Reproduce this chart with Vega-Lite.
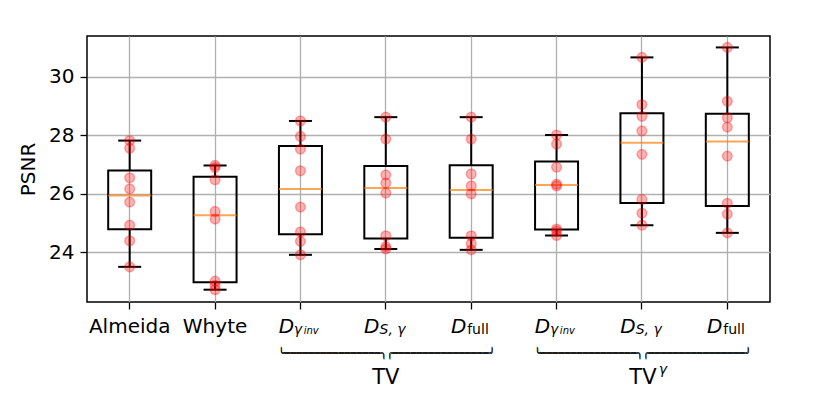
{
  "$schema": "https://vega.github.io/schema/vega-lite/v6.json",
  "width": 683,
  "height": 266,
  "autosize": {"type": "none"},
  "padding": {"left": 87, "top": 36, "right": 61, "bottom": 92},
  "background": "white",
  "config": {
    "font": "DejaVu Sans",
    "axis": {"labelFont": "DejaVu Sans", "titleFont": "DejaVu Sans", "labelColor": "black", "titleColor": "black"},
    "view": {"stroke": "black", "strokeWidth": 1.5}
  },
  "datasets": {
    "psnr": [
      {"method": "Almeida", "psnr": 23.51}, {"method": "Almeida", "psnr": 24.40}, {"method": "Almeida", "psnr": 24.93}, {"method": "Almeida", "psnr": 25.72},
      {"method": "Almeida", "psnr": 26.17}, {"method": "Almeida", "psnr": 26.55}, {"method": "Almeida", "psnr": 27.56}, {"method": "Almeida", "psnr": 27.82},
      {"method": "Whyte", "psnr": 22.73}, {"method": "Whyte", "psnr": 22.88}, {"method": "Whyte", "psnr": 23.02}, {"method": "Whyte", "psnr": 25.14},
      {"method": "Whyte", "psnr": 25.40}, {"method": "Whyte", "psnr": 26.48}, {"method": "Whyte", "psnr": 26.90}, {"method": "Whyte", "psnr": 26.97},
      {"method": "TV_Dginv", "psnr": 23.92}, {"method": "TV_Dginv", "psnr": 24.38}, {"method": "TV_Dginv", "psnr": 24.70}, {"method": "TV_Dginv", "psnr": 25.55},
      {"method": "TV_Dginv", "psnr": 26.79}, {"method": "TV_Dginv", "psnr": 27.53}, {"method": "TV_Dginv", "psnr": 27.96}, {"method": "TV_Dginv", "psnr": 28.49},
      {"method": "TV_DSg", "psnr": 24.12}, {"method": "TV_DSg", "psnr": 24.20}, {"method": "TV_DSg", "psnr": 24.57}, {"method": "TV_DSg", "psnr": 26.03},
      {"method": "TV_DSg", "psnr": 26.37}, {"method": "TV_DSg", "psnr": 26.65}, {"method": "TV_DSg", "psnr": 27.87}, {"method": "TV_DSg", "psnr": 28.62},
      {"method": "TV_Dfull", "psnr": 24.09}, {"method": "TV_Dfull", "psnr": 24.30}, {"method": "TV_Dfull", "psnr": 24.57}, {"method": "TV_Dfull", "psnr": 26.00},
      {"method": "TV_Dfull", "psnr": 26.27}, {"method": "TV_Dfull", "psnr": 26.68}, {"method": "TV_Dfull", "psnr": 27.87}, {"method": "TV_Dfull", "psnr": 28.62},
      {"method": "TVg_Dginv", "psnr": 24.58}, {"method": "TVg_Dginv", "psnr": 24.73}, {"method": "TVg_Dginv", "psnr": 24.80}, {"method": "TVg_Dginv", "psnr": 26.27},
      {"method": "TVg_Dginv", "psnr": 26.33}, {"method": "TVg_Dginv", "psnr": 26.91}, {"method": "TVg_Dginv", "psnr": 27.70}, {"method": "TVg_Dginv", "psnr": 28.01},
      {"method": "TVg_DSg", "psnr": 24.93}, {"method": "TVg_DSg", "psnr": 25.34}, {"method": "TVg_DSg", "psnr": 25.81}, {"method": "TVg_DSg", "psnr": 27.35},
      {"method": "TVg_DSg", "psnr": 28.15}, {"method": "TVg_DSg", "psnr": 28.65}, {"method": "TVg_DSg", "psnr": 29.05}, {"method": "TVg_DSg", "psnr": 30.66},
      {"method": "TVg_Dfull", "psnr": 24.67}, {"method": "TVg_Dfull", "psnr": 25.31}, {"method": "TVg_Dfull", "psnr": 25.68}, {"method": "TVg_Dfull", "psnr": 27.29},
      {"method": "TVg_Dfull", "psnr": 28.28}, {"method": "TVg_Dfull", "psnr": 28.60}, {"method": "TVg_Dfull", "psnr": 29.16}, {"method": "TVg_Dfull", "psnr": 31.00}
    ]
  },
  "data": {"name": "psnr"},
  "resolve": {"axis": {"x": "independent"}},
  "layer": [
    {
      "mark": {
        "type": "boxplot",
        "extent": 1.5,
        "size": 43,
        "outliers": false,
        "box": {"fillOpacity": 0, "stroke": "black", "strokeWidth": 2},
        "median": {"color": "#ff7f0e", "thickness": 2},
        "rule": {"color": "black", "strokeWidth": 2},
        "ticks": {"color": "black", "thickness": 2, "size": 23}
      },
      "encoding": {
        "x": {
          "field": "method", "type": "nominal",
          "scale": {"domain": ["Almeida", "Whyte", "TV_Dginv", "TV_DSg", "TV_Dfull", "TVg_Dginv", "TVg_DSg", "TVg_Dfull"], "paddingInner": 0, "paddingOuter": 0},
          "axis": {
            "orient": "bottom", "title": null, "grid": true, "gridColor": "#b0b0b0", "gridWidth": 1.3,
            "domain": false, "ticks": true, "tickSize": 7, "tickColor": "black", "tickWidth": 1.3,
            "labelAngle": 0, "labelOverlap": false, "labelBound": false, "labelFlush": false,
            "labelExpr": "datum.value == 'Almeida' || datum.value == 'Whyte' ? datum.value : 'D'",
            "labelFontSize": 20, "labelBaseline": "alphabetic", "labelPadding": 23,
            "labelFontStyle": {"condition": {"test": "datum.value != 'Almeida' && datum.value != 'Whyte'", "value": "italic"}, "value": "normal"},
            "labelOffset": {"condition": [
              {"test": "indexof(datum.value, 'Dginv') >= 0", "value": -14},
              {"test": "indexof(datum.value, 'DSg') >= 0", "value": -14},
              {"test": "indexof(datum.value, 'Dfull') >= 0", "value": -12.5}
            ], "value": 0}
          }
        },
        "y": {
          "field": "psnr", "type": "quantitative", "title": "PSNR",
          "scale": {"domain": [22.31, 31.39], "nice": false, "zero": false}
        }
      }
    },
    {
      "mark": {"type": "point", "shape": "circle", "filled": true, "size": 95, "opacity": 1, "fill": "red", "stroke": "red", "fillOpacity": 0.3, "strokeOpacity": 0.3, "strokeWidth": 1.5},
      "encoding": {
        "x": {
          "field": "method", "type": "nominal",
          "axis": {
            "orient": "bottom", "title": null, "grid": false, "domain": false, "ticks": false,
            "labelAngle": 0, "labelOverlap": false, "labelBound": false, "labelFlush": false,
            "labelExpr": "indexof(datum.value, 'Dginv') >= 0 ? 'γ' : indexof(datum.value, 'DSg') >= 0 ? 'S, γ' : indexof(datum.value, 'Dfull') >= 0 ? 'full' : ''",
            "labelFontSize": 14, "labelBaseline": "alphabetic", "labelPadding": 31.5,
            "labelFontStyle": {"condition": {"test": "indexof(datum.value, 'Dfull') >= 0", "value": "normal"}, "value": "italic"},
            "labelOffset": {"condition": {"test": "indexof(datum.value, 'Dginv') >= 0", "value": -2.5}, "value": 6.8}
          }
        },
        "y": {
          "field": "psnr", "type": "quantitative", "title": "PSNR",
          "axis": {
            "title": "PSNR", "titleFontSize": 20, "titleFontWeight": "normal", "titlePadding": 10,
            "values": [24, 26, 28, 30], "labelFontSize": 20, "labelPadding": 6,
            "tickSize": 7, "tickColor": "black", "tickWidth": 1.3,
            "grid": true, "gridColor": "#b0b0b0", "gridWidth": 1.3, "domain": false
          }
        }
      }
    },
    {
      "mark": {"type": "point", "opacity": 0},
      "encoding": {
        "x": {
          "field": "method", "type": "nominal",
          "axis": {
            "orient": "bottom", "title": null, "grid": false, "domain": false, "ticks": false,
            "labelAngle": 0, "labelOverlap": false, "labelBound": false, "labelFlush": false,
            "labelExpr": "indexof(datum.value, 'Dginv') >= 0 ? 'inv' : ''",
            "labelFontSize": 10, "labelFontStyle": "italic", "labelBaseline": "alphabetic", "labelPadding": 31.5, "labelOffset": 10.8
          }
        }
      }
    },
    {
      "mark": {"type": "point", "opacity": 0},
      "encoding": {
        "x": {
          "field": "method", "type": "nominal",
          "axis": {
            "orient": "bottom", "title": null, "grid": false, "domain": false, "ticks": false,
            "labelAngle": 0, "labelOverlap": false, "labelBound": false, "labelFlush": false, "labelLimit": 0,
            "labelExpr": "indexof(datum.value, 'DSg') >= 0 ? '╰────────────────╮╭────────────────╯' : ''",
            "labelFontSize": 10, "labelBaseline": "alphabetic", "labelPadding": 53.5, "labelOffset": 0.5
          }
        }
      }
    },
    {
      "mark": {"type": "point", "opacity": 0},
      "encoding": {
        "x": {
          "field": "method", "type": "nominal",
          "axis": {
            "orient": "bottom", "title": null, "grid": false, "domain": false, "ticks": false,
            "labelAngle": 0, "labelOverlap": false, "labelBound": false, "labelFlush": false, "labelLimit": 0,
            "labelExpr": "indexof(datum.value, 'DSg') >= 0 ? '╰────────────────╮╭────────────────╯' : ''",
            "labelFontSize": 10, "labelBaseline": "alphabetic", "labelPadding": 54.2, "labelOffset": 0.9
          }
        }
      }
    },
    {
      "mark": {"type": "point", "opacity": 0},
      "encoding": {
        "x": {
          "field": "method", "type": "nominal",
          "axis": {
            "orient": "bottom", "title": null, "grid": false, "domain": false, "ticks": false,
            "labelAngle": 0, "labelOverlap": false, "labelBound": false, "labelFlush": false,
            "labelExpr": "indexof(datum.value, 'DSg') >= 0 ? 'TV' : ''",
            "labelFontSize": 21, "labelBaseline": "alphabetic", "labelPadding": 81,
            "labelOffset": {"condition": {"test": "datum.value == 'TVg_DSg'", "value": 1}, "value": 0}
          }
        }
      }
    },
    {
      "mark": {"type": "point", "opacity": 0},
      "encoding": {
        "x": {
          "field": "method", "type": "nominal",
          "axis": {
            "orient": "bottom", "title": null, "grid": false, "domain": false, "ticks": false,
            "labelAngle": 0, "labelOverlap": false, "labelBound": false, "labelFlush": false,
            "labelExpr": "datum.value == 'TVg_DSg' ? 'γ' : ''",
            "labelFontSize": 14, "labelFontStyle": "italic", "labelBaseline": "alphabetic", "labelPadding": 71, "labelOffset": 21
          }
        }
      }
    }
  ]
}
